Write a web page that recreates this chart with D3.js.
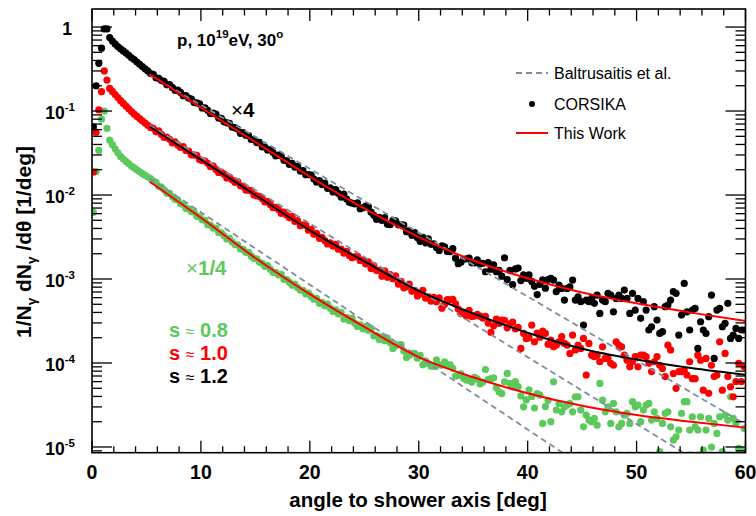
<!DOCTYPE html>
<html><head><meta charset="utf-8">
<script src="https://cdn.jsdelivr.net/npm/d3@7"></script>
<style>
body{margin:0;background:#fff;}
svg{display:block;}
text{font-family:"Liberation Sans",Arial,Helvetica,sans-serif;}
</style>
</head><body>
<svg id="chart" width="756" height="516"></svg>
<script>
// ---- data (angle bins are 0.25 deg wide, centred at 0.125, 0.375, ...) ----
const binStart = 0.125, binStep = 0.25;

// CORSIKA, s ~ 1.2 (x4)
const blackValues = [
0.065,0.20,0.37,0.56,0.95,0.95,0.75,0.68,0.63,0.586,0.55,0.52,0.49,0.46,0.43,0.41,0.383,0.36,0.339,0.318,0.30,0.28,
0.274,0.249,0.245,0.231,0.225,0.205,0.207,0.191,0.177,0.177,
0.167,0.152,0.153,0.143,0.139,0.126,0.125,0.122,
0.109,0.109,0.102,0.0935,0.0944,0.092,0.0828,0.0817,
0.0743,0.0724,0.0714,0.0643,0.0634,0.0611,0.0543,0.0555,
0.0516,0.0509,0.0458,0.0457,0.0421,0.0425,0.0374,0.0373,
0.0344,0.0348,0.0321,0.0292,0.0299,0.0291,0.0259,0.0256,
0.0231,0.0238,0.0215,0.0219,0.0193,0.0195,0.0174,0.0175,
0.0173,0.0155,0.0142,0.0149,0.0133,0.0139,0.012,0.0122,
0.0109,0.0116,0.01045,0.00944,0.01026,0.00895,0.00818,0.00802,
0.00785,0.00805,0.00687,0.00705,0.0074,0.00728,0.00624,0.00573,
0.00514,0.00542,0.00498,0.00537,0.0045,0.00443,0.005,0.00492,
0.00442,0.00445,0.00438,0.00366,0.00378,0.00331,0.00357,0.00313,
0.00281,0.00313,0.0027,0.003,0.00259,0.00262,0.00237,0.00219,
0.00249,0.00242,0.00213,0.00211,0.0023,0.00177,0.00152,0.00158,
0.00172,0.00174,0.00177,0.00156,0.00155,0.00169,0.00151,0.00154,
0.00122,0.00157,0.00131,0.00147,0.00122,0.00127,0.00108,0.00179,
0.000984,0.00127,0.000855,0.00132,0.00135,0.000957,0.00112,0.00102,
0.00112,0.000935,0.000818,0.000653,0.000865,0.000975,0.000778,0.000984,
1.016e-3,9.7e-4,7.06e-4,8.47e-4,7.73e-4,5.61e-4,7.73e-4,8.09e-4,
9.7e-4,5.61e-4,6.15e-4,5.37e-4,2.83e-4,5.61e-4,5.37e-4,5.87e-4,
5.13e-4,6.44e-4,3.89e-4,5.61e-4,5.37e-4,6.75e-4,6.44e-4,4.07e-4,
5.87e-4,6.44e-4,5.87e-4,7.38e-4,5.87e-4,3.89e-4,6.75e-4,4.27e-4,
5.87e-4,3.4e-4,5.37e-4,4.27e-4,2.47e-4,2.7e-4,4.68e-4,3.24e-4,
2.25e-4,2.36e-4,4.68e-4,4.9e-4,5.61e-4,7.06e-4,6.75e-4,2.15e-4,
3.72e-4,8.87e-4,4.07e-4,2.47e-4,4.27e-4,4.47e-4,1.49e-4,3.1e-4,
2.47e-4,2.25e-4,3.56e-4,6.44e-4,1.135e-4,4.27e-4,4.47e-4,2.7e-4,
2.96e-4,5.13e-4,1.96e-4,2.15e-4,2.58e-4,1.96e-4,2.47e-4,2.47e-4
];

// CORSIKA, s ~ 1.0
const redValues = [
0.0188,0.056,0.103,0.17,0.30,0.234,0.186,0.171,0.157,0.1445,0.133,0.1233,0.1146,0.1062,0.0986,0.0918,0.0863,0.0813,0.0764,0.0718,0.0676,0.0638,
0.0622,0.0566,0.0579,0.0527,0.0485,0.049,0.0461,0.0416,0.043,0.0395,
0.0368,0.0376,0.0339,0.0334,0.0301,0.03,0.0296,0.0264,
0.0257,0.0254,0.0239,0.0217,0.0222,0.0202,0.0186,0.0187,
0.0177,0.0159,0.0164,0.0151,0.0141,0.0144,0.0129,0.0127,
0.01146,0.01143,0.01127,0.01002,0.00977,0.00964,0.00908,0.00826,
0.00843,0.00767,0.00706,0.00713,0.00671,0.00604,0.00624,0.00574,
0.00535,0.00558,0.00485,0.00495,0.0043,0.0044,0.00439,0.00381,
0.00389,0.0034,0.00349,0.00305,0.00313,0.00286,0.00262,0.00269,
0.00247,0.00259,0.00226,0.00227,0.00203,0.00213,0.00191,0.00179,
0.00184,0.00188,0.00165,0.00169,0.00151,0.0016,0.00133,0.00144,
0.00126,0.00127,0.00108,0.00125,0.00105,0.00113,0.00101,0.00109,
0.00087,0.00094,0.000785,0.000809,0.00087,0.000713,0.000733,0.000628,
0.000661,0.000735,0.000593,0.000615,0.000545,0.000605,0.000536,0.000596,
0.000449,0.000499,0.000569,0.000564,0.000573,0.000506,0.000438,0.000386,
0.000402,0.000363,0.000424,0.000357,0.000363,0.000379,0.000361,0.000344,
0.00036,0.000299,0.000231,0.000277,0.000333,0.000296,0.000324,0.000323,
0.000262,0.000293,0.000306,0.000254,0.000265,0.000149,0.000225,0.000195,
0.0002,0.000283,0.000179,0.000227,0.000203,0.00024,0.000225,0.000167,
1.87e-4,1.56e-4,1.63e-4,1.79e-4,2.06e-4,1.71e-4,1.63e-4,1.30e-4,
2.15e-4,1.43e-4,1.63e-4,1.49e-4,1.96e-4,7.2e-5,1.71e-4,1.24e-4,
1.19e-4,1.24e-4,1.035e-4,1.56e-4,1.135e-4,1.135e-4,9.9e-5,9.4e-5,
1.79e-4,1.63e-4,1.56e-4,1.24e-4,1.08e-4,9.0e-5,1.035e-4,1.19e-4,
9.0e-5,1.24e-4,1.24e-4,1.19e-4,9.9e-5,7.9e-5,1.035e-4,1.19e-4,
9.4e-5,8.6e-5,6.9e-5,1.63e-4,1.43e-4,7.5e-5,5.0e-5,7.9e-5,
7.9e-5,8.2e-5,7.2e-5,1.035e-4,6.5e-5,6.5e-5,1.24e-4,1.08e-4,
4.75e-5,1.135e-4,4.35e-5,9.4e-5,6.9e-5,7.2e-5,1.79e-4,4.75e-5,
1.30e-4,6.9e-5,5.2e-5,3.96e-5,6.0e-5,9.9e-5,6.0e-5,9.0e-5
];

// CORSIKA, s ~ 0.8 (x1/4)
const greenValues = [
0.0062,0.019,0.034,0.08,0.10,0.062,0.045,0.0398,0.0355,0.0318,0.0288,0.0268,0.0251,0.0236,0.0221,0.021,0.02,0.0189,0.018,0.0172,0.0164,0.0157,
0.0147,0.0142,0.0127,0.0124,0.01153,0.0105,0.01045,0.0096,0.00883,0.00871,
0.00787,0.00771,0.0069,0.00684,0.00632,0.00627,0.0056,0.0055,
0.00508,0.00498,0.00445,0.00437,0.00404,0.00405,0.00357,0.00354,
0.00328,0.003,0.00304,0.00275,0.00257,0.00255,0.00228,0.00226,
0.00207,0.00207,0.00187,0.00175,0.00174,0.00158,0.00154,0.00141,
0.00144,0.00131,0.0012,0.0012,0.00112,0.00114,0.00099,0.000984,
0.000916,0.000841,0.000869,0.000789,0.000735,0.000731,0.000665,0.000678,
0.000617,0.000575,0.00059,0.000514,0.000526,0.00048,0.000504,0.000449,
0.000409,0.00043,0.000383,0.000401,0.000333,0.00035,0.000319,0.000342,
0.000298,0.000272,0.000285,0.000254,0.000272,0.000244,0.000258,0.00021,
0.000212,0.00019,0.000205,0.000184,0.000198,0.000174,0.000149,0.00016,
0.000165,0.000166,0.000139,0.000116,0.000123,0.000129,0.00013,0.000114,
0.000123,9.5e-5,0.000106,9.86e-5,9.16e-5,9.12e-5,0.000109,9.46e-5,
9.42e-5,0.000103,9.55e-5,9.5e-5,8.63e-5,6.98e-5,7.11e-5,7.41e-5,
6.58e-5,6.25e-5,6.22e-5,5.92e-5,6.76e-5,6.47e-5,5.64e-5,5.92e-5,
8.36e-5,6.35e-5,6.5e-5,6.67e-5,5.06e-5,4.52e-5,4.32e-5,5.97e-5,
7.52e-5,5.71e-5,5.21e-5,6.0e-5,5.22e-5,4.06e-5,3.01e-5,3.63e-5,
4.79e-5,4.0e-5,2.91e-5,4.33e-5,4.15e-5,1.91e-5,3.03e-5,3.58e-5,
2.0e-5,5.98e-5,2.75e-5,3.3e-5,2.62e-5,3.01e-5,3.16e-5,3.3e-5,
2.62e-5,3.96e-5,3.96e-5,2.75e-5,1.74e-5,2.4e-5,2.09e-5,2.0e-5,
2.19e-5,1.82e-5,5.71e-5,3.61e-5,2.62e-5,3.01e-5,1.91e-5,3.3e-5,
2.62e-5,1.74e-5,1.91e-5,2.4e-5,2.51e-5,1.91e-5,3.46e-5,3.01e-5,
3.16e-5,2.0e-5,2.75e-5,3.16e-5,3.3e-5,2.09e-5,2.62e-5,2.19e-5,
8.8e-6,1.91e-5,2.51e-5,2.62e-5,1.74e-5,1.21e-5,1.32e-5,1.59e-5,
2.51e-5,3.46e-5,3.46e-5,1.59e-5,2.29e-5,1.74e-5,1.59e-5,2.29e-5,
9.2e-6,1.59e-5,2.19e-5,1.0e-5,1.91e-5,1.45e-5,2.29e-5,8.8e-6,
2.4e-5,2.09e-5,3.96e-5,2.19e-5,1.91e-5,9.6e-6,9.2e-6,1.66e-5
];

// "This Work" model curves
const fitAngles = [5.3,10,15,20,25,30,35,40,45,50,55,60];
const fitBlack = [0.274,0.11,0.0427,0.0166,0.00692,0.00316,0.00166,0.00102,0.000692,0.000513,0.000398,0.000316];
const fitRed   = [0.065,0.0263,0.01,0.0038,0.00162,0.000724,0.000389,0.000229,0.000148,0.00011,0.000087,0.0000724];
const fitGreen = [0.01445,0.00537,0.00178,0.00066,0.000269,0.0001175,0.0000676,0.0000437,0.0000309,0.000024,0.00002,0.000017];

// Baltrusaitis et al. (clamped at the frame bottom)
const baltBlackX = [5.3,60],        baltBlack = [0.269,0.0000186];
const baltRedX   = [5.3,54.3,60],   baltRed   = [0.0676,8.55e-6,8.55e-6];
const baltGreenX = [5.3,43.2,60],   baltGreen = [0.01585,8.55e-6,8.55e-6];

const xTicks = [0,10,20,30,40,50,60];
const yTickExps = [0,-1,-2,-3,-4,-5];
const xDomain = [0,60];
const yDomain = [8.55e-6,1.64];

// ---- drawing ----
const COL = {black:"#000000", red:"#ff0000", green:"#5cc95c", dash:"#7b8ea1"};
const L = 92, R = 745.5, T = 9, B = 452.7;
const svg = d3.select("#chart");
svg.append("rect").attr("width",756).attr("height",516).attr("fill","#fff");

const x = d3.scaleLinear().domain(xDomain).range([L,R]);
const y = d3.scaleLog().domain(yDomain).range([B,T]);

svg.append("defs").append("clipPath").attr("id","clip")
  .append("rect").attr("x",L).attr("y",T).attr("width",R-L).attr("height",B-T);
const plot = svg.append("g").attr("clip-path","url(#clip)");

function series(vals){ return vals.map((v,i)=>({a:binStart+i*binStep, v})); }
[[greenValues,COL.green],[redValues,COL.red],[blackValues,COL.black]].forEach(([vals,c])=>{
  plot.append("g").selectAll("circle").data(series(vals)).join("circle")
    .attr("cx",d=>x(d.a)).attr("cy",d=>y(d.v)).attr("r",3.6).attr("fill",c);
});

const lineGen = d3.line().x(d=>x(d[0])).y(d=>y(d[1]));
[[baltBlackX,baltBlack],[baltRedX,baltRed],[baltGreenX,baltGreen]].forEach(([xs,vs])=>{
  plot.append("path").attr("d",lineGen(xs.map((a,i)=>[a,vs[i]])))
    .attr("fill","none").attr("stroke",COL.dash).attr("stroke-width",1.8).attr("stroke-dasharray","6,4");
});
const curveGen = d3.line().x(d=>x(d[0])).y(d=>y(d[1])).curve(d3.curveMonotoneX);
[[fitBlack,COL.red],[fitRed,COL.black],[fitGreen,COL.red]].forEach(([vs,c])=>{
  plot.append("path").attr("d",curveGen(fitAngles.map((a,i)=>[a,vs[i]])))
    .attr("fill","none").attr("stroke",c).attr("stroke-width",2);
});

// frame + ticks
const ax = svg.append("g").attr("stroke","#000").attr("stroke-width",1.3);
for(let v=0; v<=60; v+=2){
  const major = v%10===0, len = major?12:6.5, px = x(v);
  ax.append("line").attr("x1",px).attr("x2",px).attr("y1",B).attr("y2",B-len);
  ax.append("line").attr("x1",px).attr("x2",px).attr("y1",T).attr("y2",T+len);
}
for(let k=-6;k<=0;k++){
  for(let m=1;m<=9;m++){
    const v = m*Math.pow(10,k);
    if(v<yDomain[0]||v>yDomain[1]) continue;
    const len = m===1?20:10, py = y(v);
    ax.append("line").attr("x1",L).attr("x2",L+len).attr("y1",py).attr("y2",py);
    ax.append("line").attr("x1",R).attr("x2",R-len).attr("y1",py).attr("y2",py);
  }
}
svg.append("rect").attr("x",L).attr("y",T).attr("width",R-L).attr("height",B-T)
  .attr("fill","none").attr("stroke","#000").attr("stroke-width",1.6);

// tick labels
xTicks.forEach(v=>{
  svg.append("text").attr("x",x(v)).attr("y",478.5).attr("text-anchor","middle")
    .attr("font-size",19.5).attr("font-weight","bold").text(v);
});
yTickExps.forEach(e=>{
  const py = y(Math.pow(10,e));
  const t = svg.append("text").attr("y",py+8).attr("text-anchor","end")
    .attr("font-size",17.5).attr("font-weight","bold");
  if(e===0){ t.attr("x",72).text("1"); }
  else {
    t.attr("x",75);
    t.append("tspan").text("10");
    t.append("tspan").attr("dy",-8).attr("font-size",11.5).text("-"+Math.abs(e));
  }
});

// axis titles
svg.append("text").attr("x",418).attr("y",507).attr("text-anchor","middle")
  .attr("font-size",20.5).attr("font-weight","bold").text("angle to shower axis [deg]");
const yt = svg.append("text").attr("transform","translate(31,242) rotate(-90)")
  .attr("text-anchor","middle").attr("font-size",21).attr("font-weight","bold");
yt.append("tspan").text("1/N");
yt.append("tspan").attr("font-size",13.5).attr("dy",5).text("γ");
yt.append("tspan").attr("dy",-5).text(" dN");
yt.append("tspan").attr("font-size",13.5).attr("dy",5).text("γ");
yt.append("tspan").attr("dy",-5).text(" /dθ [1/deg]");

// annotations
const ttl = svg.append("text").attr("x",177).attr("y",46).attr("font-size",17).attr("font-weight","bold");
ttl.append("tspan").text("p, 10");
ttl.append("tspan").attr("dy",-8).attr("font-size",11.5).text("19");
ttl.append("tspan").attr("dy",8).text("eV, 30");
ttl.append("tspan").attr("dy",-8).attr("font-size",11.5).text("o");

function factor(xp, yp, num, col){
  const t = svg.append("text").attr("x",xp).attr("y",yp).attr("font-size",20.5).attr("fill",col);
  t.append("tspan").attr("font-weight","normal").text("×");
  t.append("tspan").attr("font-weight","bold").text(num);
}
factor(231,117,"4",COL.black);
factor(186,275,"1/4",COL.green);

function sLabel(yp, val, col){
  const t = svg.append("text").attr("x",169).attr("y",yp).attr("font-size",20).attr("fill",col);
  t.append("tspan").attr("font-weight","bold").text("s ");
  t.append("tspan").attr("font-weight","normal").attr("font-size",16).text("≈");
  t.append("tspan").attr("font-weight","bold").text(" "+val);
}
sLabel(337,"0.8",COL.green);
sLabel(360,"1.0",COL.red);
sLabel(383,"1.2",COL.black);

// legend
const lg = svg.append("g");
lg.append("line").attr("x1",516).attr("x2",548).attr("y1",73).attr("y2",73)
  .attr("stroke",COL.dash).attr("stroke-width",1.8).attr("stroke-dasharray","6,4");
lg.append("text").attr("x",554).attr("y",78.5).attr("font-size",16).text("Baltrusaitis et al.");
lg.append("circle").attr("cx",532).attr("cy",104).attr("r",3).attr("fill","#000");
lg.append("text").attr("x",554).attr("y",110).attr("font-size",16).text("CORSIKA");
lg.append("line").attr("x1",516).attr("x2",548).attr("y1",133).attr("y2",133)
  .attr("stroke",COL.red).attr("stroke-width",2);
lg.append("text").attr("x",554).attr("y",138.5).attr("font-size",16).text("This Work");
</script>
</body></html>
